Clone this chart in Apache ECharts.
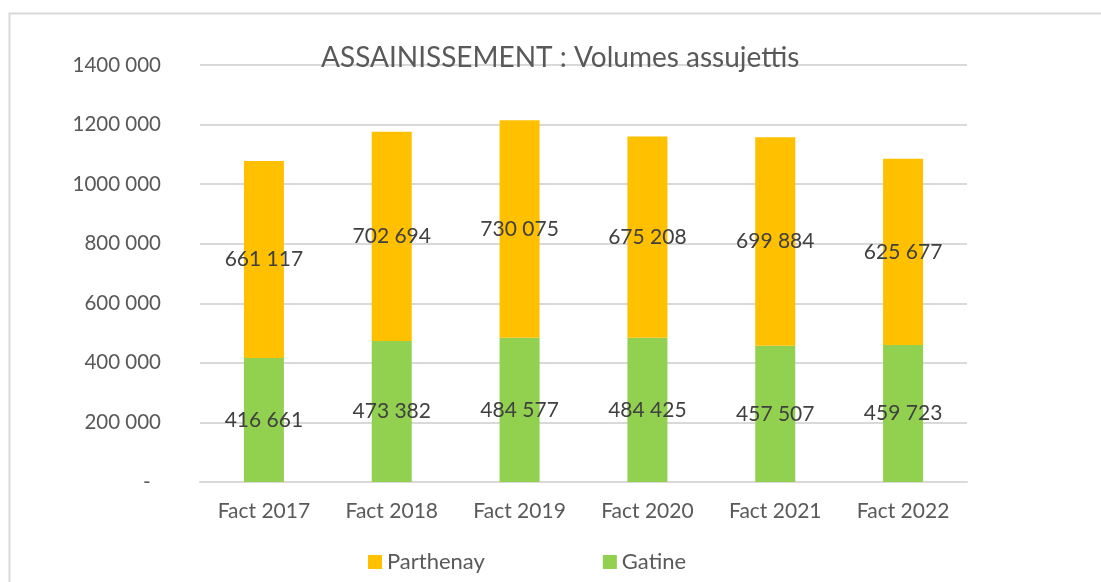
<!DOCTYPE html>
<html>
<head>
<meta charset="utf-8">
<script src="https://cdn.jsdelivr.net/npm/echarts@6/dist/echarts.min.js"></script>
<style>
html,body{margin:0;padding:0;background:#fff;}
#chart{width:1101px;height:582px;}
</style>
</head>
<body>
<div id="chart"></div>
<script>
var categories = ['Fact 2017','Fact 2018','Fact 2019','Fact 2020','Fact 2021','Fact 2022'];
var gatine = [416661, 473382, 484577, 484425, 457507, 459723];
var parthenay = [661117, 702694, 730075, 675208, 699884, 625677];
var yTicks = [0, 200000, 400000, 600000, 800000, 1000000, 1200000, 1400000];

var FONT = 'Lato, "Open Sans", sans-serif';

function fmt(v) {
  if (v === 0) return '-  ';
  var th = Math.floor(v / 1000);
  var r = Math.round(v % 1000);
  var rs = ('00' + r).slice(-3);
  if (th === 0) return String(r);
  return th + ' ' + rs;
}

var chart = echarts.init(document.getElementById('chart'));
chart.setOption({
  animation: false,
  backgroundColor: '#ffffff',
  graphic: [{
    type: 'rect',
    shape: {x: 9.5, y: 13.5, width: 1200, height: 700},
    style: {fill: 'none', stroke: '#d9d9d9', lineWidth: 2},
    silent: true, z: -1
  }],
  title: {
    text: 'ASSAINISSEMENT : Volumes assujettis',
    left: 316, top: 39,
    textStyle: {fontFamily: FONT, fontSize: 28, fontWeight: 'normal', color: '#595959'}
  },
  legend: {
    data: ['Parthenay', 'Gatine'],
    left: 363, top: 546,
    itemWidth: 14, itemHeight: 14, itemGap: 118,
    icon: 'rect',
    textStyle: {fontFamily: FONT, fontSize: 22, color: '#595959'}
  },
  grid: {left: 200, right: 134, top: 65, bottom: 100, containLabel: false},
  xAxis: {
    type: 'category',
    data: categories,
    axisLine: {lineStyle: {color: '#d9d9d9', width: 2}},
    axisTick: {show: false},
    axisLabel: {fontFamily: FONT, fontSize: 21, color: '#595959', margin: 19}
  },
  yAxis: {
    type: 'value',
    min: 0, max: 1400000, interval: 200000,
    axisLine: {show: false},
    axisTick: {show: false},
    splitLine: {lineStyle: {color: '#d9d9d9', width: 2}},
    axisLabel: {
      fontFamily: FONT, fontSize: 20.5, color: '#595959', margin: 39,
      formatter: function (v) { return yTicks.indexOf(v) >= 0 ? fmt(v) : ''; }
    }
  },
  series: [{
    name: 'Gatine', type: 'bar', stack: 'total',
    data: gatine, barWidth: 40,
    itemStyle: {color: '#92d050'},
    label: {show: true, position: 'inside', fontFamily: FONT, fontSize: 21, color: '#404040',
      formatter: function (p) { return fmt(p.value); }}
  }, {
    name: 'Parthenay', type: 'bar', stack: 'total',
    data: parthenay, barWidth: 40,
    itemStyle: {color: '#ffc000'},
    label: {show: true, position: 'inside', fontFamily: FONT, fontSize: 21, color: '#404040',
      formatter: function (p) { return fmt(p.value); }}
  }]
});
</script>
</body>
</html>
